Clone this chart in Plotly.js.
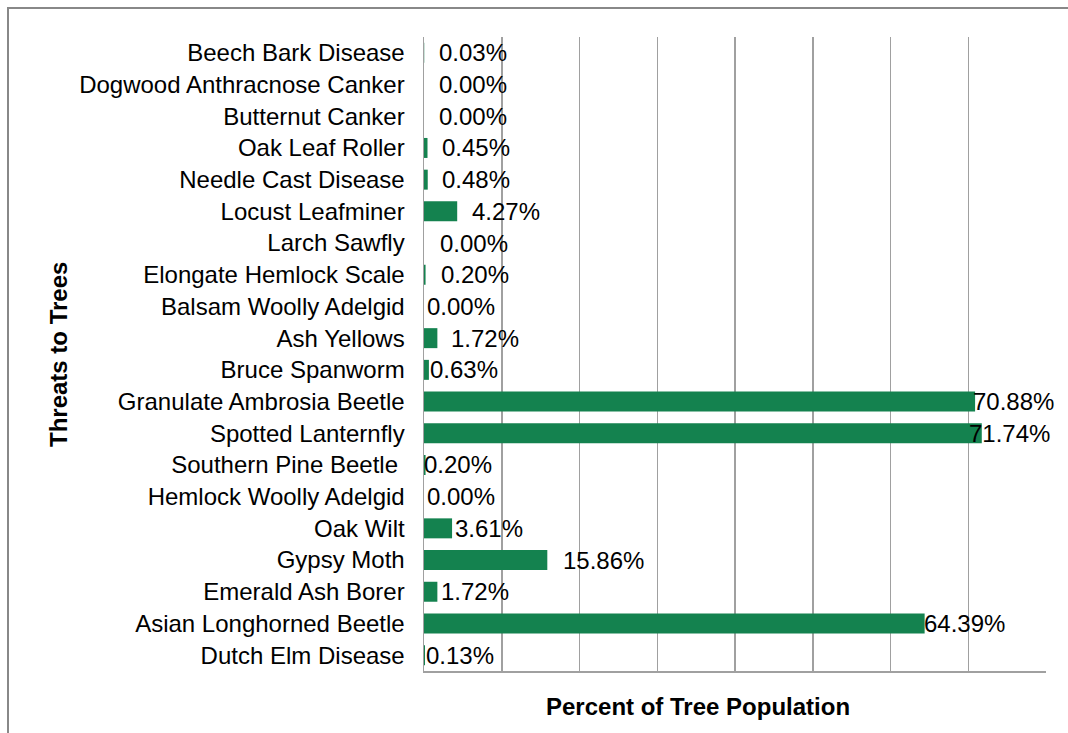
<!DOCTYPE html>
<html>
<head>
<meta charset="utf-8">
<script src="https://cdn.plot.ly/plotly-3.0.1.min.js"></script>
<style>
html,body{margin:0;padding:0;background:#fff;}
#chart{width:1068px;height:733px;}
</style>
</head>
<body>
<div id="chart"></div>
<script>
// Categories listed bottom to top
const categories = [
  "Dutch Elm Disease",
  "Asian Longhorned Beetle",
  "Emerald Ash Borer",
  "Gypsy Moth",
  "Oak Wilt",
  "Hemlock Woolly Adelgid",
  "Southern Pine Beetle ",
  "Spotted Lanternfly",
  "Granulate Ambrosia Beetle",
  "Bruce Spanworm",
  "Ash Yellows",
  "Balsam Woolly Adelgid",
  "Elongate Hemlock Scale",
  "Larch Sawfly",
  "Locust Leafminer",
  "Needle Cast Disease",
  "Oak Leaf Roller",
  "Butternut Canker",
  "Dogwood Anthracnose Canker",
  "Beech Bark Disease"
];
const percentValues = [0.13, 64.39, 1.72, 15.86, 3.61, 0.00, 0.20, 71.74, 70.88, 0.63,
                       1.72, 0.00, 0.20, 0.00, 4.27, 0.48, 0.45, 0.00, 0.00, 0.03];
const valueLabels = percentValues.map(v => v.toFixed(2) + "%");
const xTickValues = [0, 10, 20, 30, 40, 50, 60, 70, 80];

// Style: horizontal pixel nudge of each data label from its bar end (same order as categories)
const labelNudgePx = [2, 0, 5, 17, 4, 4, -1, -12, -1, 2,
                      15, 4, 16, 17, 16, 15, 15, 16, 16, 16];

const W = 1068, H = 733;
const mL = 424, mR = 22, mT = 37, mB = 62;
const pw = W - mL - mR, ph = H - mT - mB;
const px = x => (x - mL) / pw;
const py = y => (H - mB - y) / ph;

const FONT = "Liberation Sans, Arial, sans-serif";
const FS = 24;

const trace = {
  type: "bar",
  orientation: "h",
  y: categories,
  x: percentValues,
  marker: {color: "#14824F"},
  cliponaxis: false,
  hoverinfo: "skip"
};

const labelAnnotations = categories.map((c, i) => ({
  x: percentValues[i],
  y: c,
  xref: "x", yref: "y",
  text: valueLabels[i],
  showarrow: false,
  xanchor: "left",
  yanchor: "middle",
  xshift: labelNudgePx[i] - 3,
  font: {family: FONT, size: FS, color: "#000"}
}));

const layout = {
  width: W, height: H,
  margin: {l: mL, r: mR, t: mT, b: mB, pad: 0},
  paper_bgcolor: "#fff",
  plot_bgcolor: "#fff",
  showlegend: false,
  bargap: 0.37,
  font: {family: FONT, size: FS, color: "#000"},
  xaxis: {
    range: [0, 80],
    tickvals: xTickValues,
    showticklabels: false,
    showgrid: true,
    gridcolor: "#a0a0a0",
    gridwidth: 1.5,
    zeroline: false,
    showline: true,
    linecolor: "#a0a0a0",
    linewidth: 1.5,
    ticks: "",
    fixedrange: true
  },
  yaxis: {
    type: "category",
    categoryorder: "array",
    categoryarray: categories,
    showgrid: false,
    zeroline: false,
    showline: true,
    linecolor: "#a0a0a0",
    linewidth: 1.5,
    ticks: "",
    ticklabelstandoff: 13,
    tickfont: {family: FONT, size: FS, color: "#000"},
    fixedrange: true
  },
  annotations: labelAnnotations.concat([
    {
      text: "<b>Percent of Tree Population</b>",
      xref: "paper", yref: "paper",
      x: px(698), y: py(706),
      xanchor: "center", yanchor: "middle",
      showarrow: false,
      font: {family: FONT, size: FS, color: "#000"}
    },
    {
      text: "<b>Threats to Trees</b>",
      xref: "paper", yref: "paper",
      x: px(58), y: py(355),
      xanchor: "center", yanchor: "middle",
      textangle: -90,
      showarrow: false,
      font: {family: FONT, size: FS, color: "#000"}
    }
  ]),
  shapes: [
    {
      type: "path",
      xref: "paper", yref: "paper",
      path: "M " + px(8) + " " + py(745) + " L " + px(8) + " " + py(8) + " L " + px(1080) + " " + py(8),
      line: {color: "#888888", width: 2}
    }
  ]
};

Plotly.newPlot("chart", [trace], layout, {staticPlot: true, displayModeBar: false});
</script>
</body>
</html>
